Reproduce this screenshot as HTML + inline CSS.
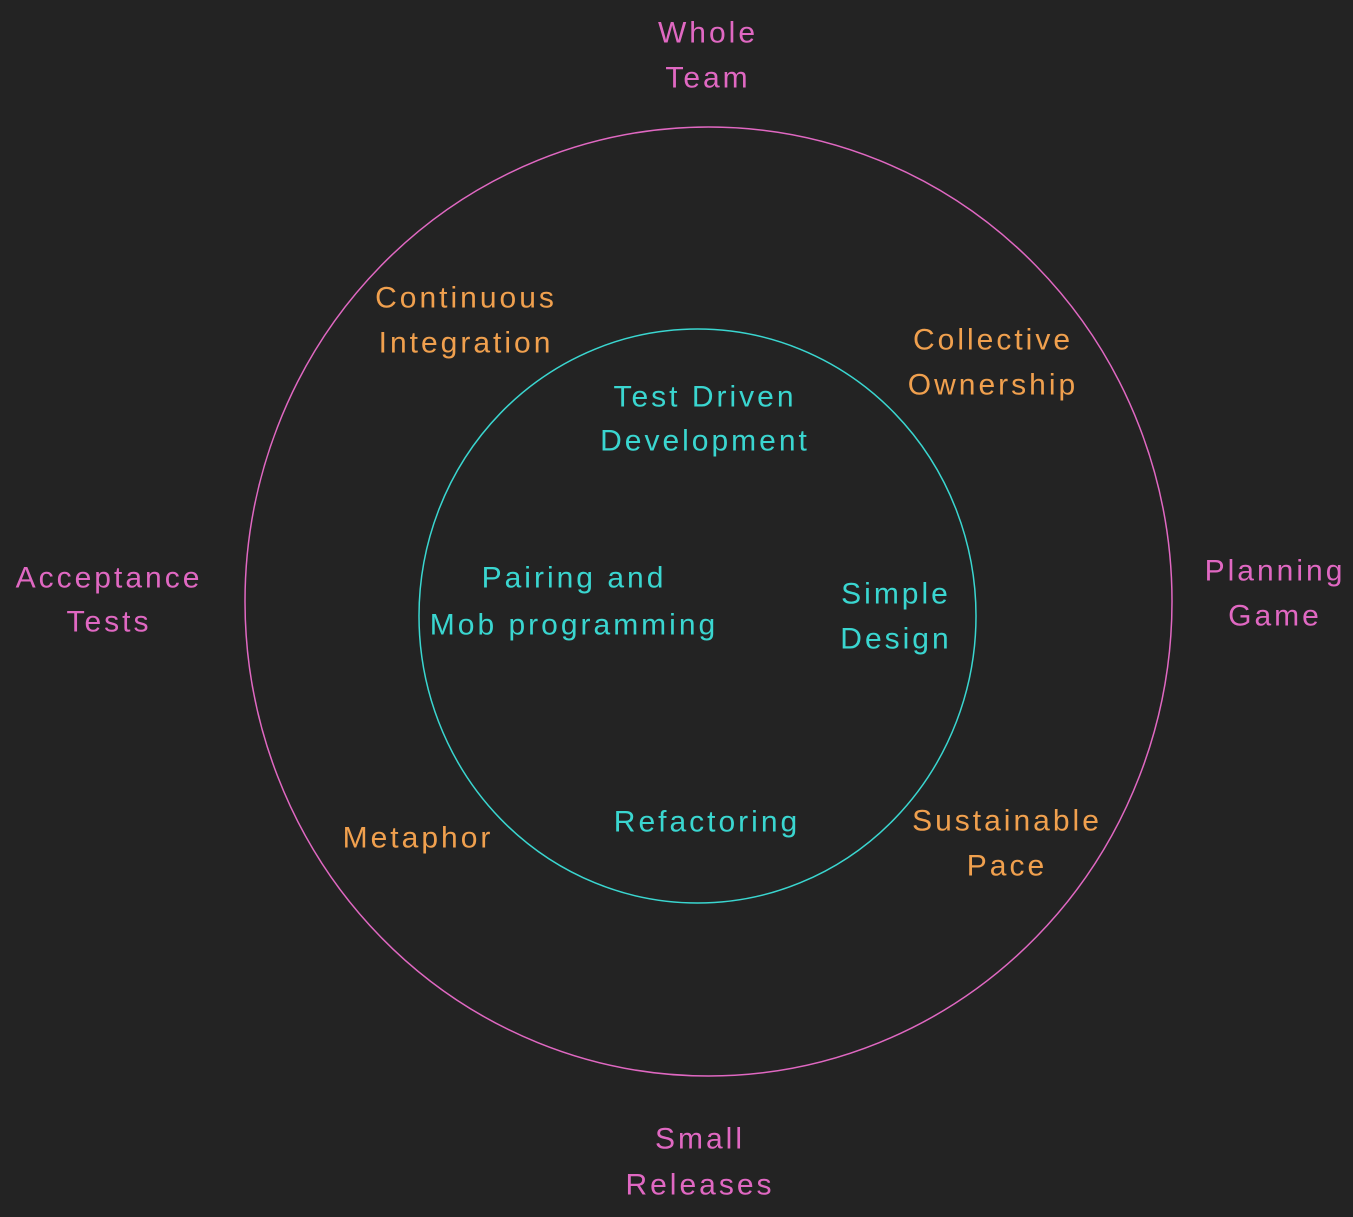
<!DOCTYPE html>
<html><head><meta charset="utf-8"><style>
html,body{margin:0;padding:0;background:#232323;}
svg{display:block;}
text{font-family:"Liberation Sans",sans-serif;font-size:30px;letter-spacing:3px;text-anchor:middle;dominant-baseline:central;}
.p{fill:#e068c2}.o{fill:#f0a04e}.c{fill:#3ad6d0}
</style></head><body>
<svg width="1353" height="1217" viewBox="0 0 1353 1217">
<rect width="1353" height="1217" fill="#232323"/>
<ellipse cx="708.5" cy="601.5" rx="463.5" ry="474.5" fill="none" stroke="#e068c2" stroke-width="1.5"/>
<ellipse cx="697.5" cy="616" rx="278.5" ry="287" fill="none" stroke="#3ad6d0" stroke-width="1.5"/>
<text class="p" x="708" y="33">Whole</text><text class="p" x="708" y="78">Team</text>
<text class="o" x="466" y="298">Continuous</text><text class="o" x="466" y="343">Integration</text>
<text class="o" x="993" y="340">Collective</text><text class="o" x="993" y="385">Ownership</text>
<text class="c" x="705" y="397">Test Driven</text><text class="c" x="705" y="441">Development</text>
<text class="p" x="109" y="578">Acceptance</text><text class="p" x="109" y="622">Tests</text>
<text class="p" x="1275" y="571">Planning</text><text class="p" x="1275" y="616">Game</text>
<text class="c" x="574" y="578">Pairing and</text><text class="c" x="574" y="625">Mob programming</text>
<text class="c" x="896" y="594">Simple</text><text class="c" x="896" y="639">Design</text>
<text class="o" x="418" y="838">Metaphor</text>
<text class="c" x="707" y="822">Refactoring</text>
<text class="o" x="1007" y="821">Sustainable</text><text class="o" x="1007" y="866">Pace</text>
<text class="p" x="700" y="1139">Small</text><text class="p" x="700" y="1185">Releases</text>
</svg>
</body></html>
